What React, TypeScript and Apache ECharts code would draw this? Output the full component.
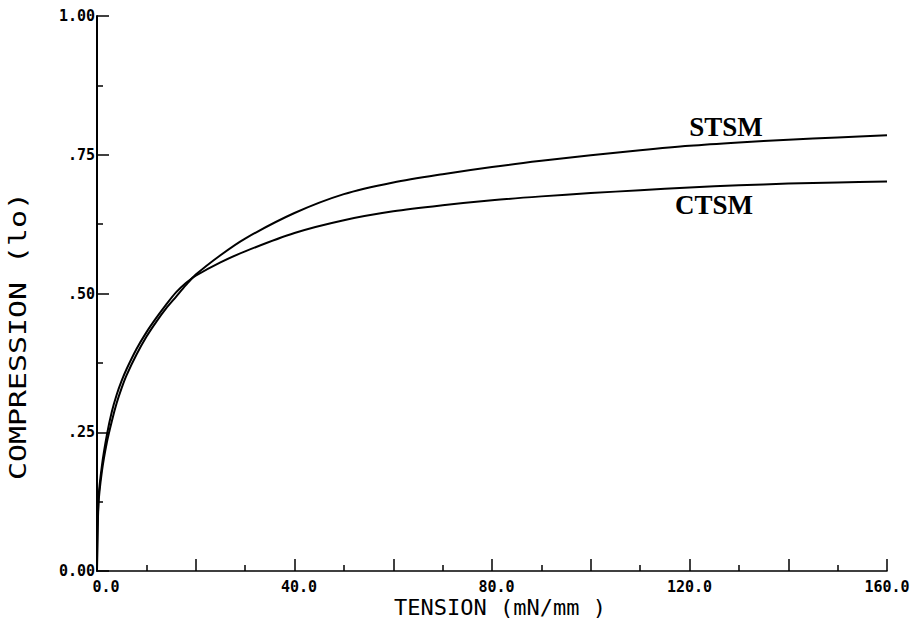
import React, { useEffect, useRef } from "react";
import * as echarts from "echarts";

const tension = [0, 0.3, 1, 2, 3, 4, 5, 6, 8, 10, 12, 14, 16, 18, 20, 25, 30, 40, 50, 60, 70, 80, 90, 100, 110, 120, 130, 140, 150, 160];
const stsm = [0, 0.12, 0.18, 0.232, 0.27, 0.303, 0.33, 0.353, 0.39, 0.422, 0.449, 0.473, 0.494, 0.515, 0.534, 0.569, 0.599, 0.645, 0.679, 0.7, 0.715, 0.728, 0.739, 0.749, 0.758, 0.766, 0.772, 0.777, 0.781, 0.785];
const ctsm = [0, 0.13, 0.19, 0.245, 0.287, 0.318, 0.343, 0.364, 0.4, 0.43, 0.456, 0.48, 0.502, 0.519, 0.532, 0.556, 0.576, 0.609, 0.632, 0.648, 0.659, 0.668, 0.675, 0.681, 0.686, 0.691, 0.695, 0.698, 0.7, 0.702];

const seriesNames = ["STSM", "CTSM"];
const xTitle = "TENSION (mN/mm )";
const yTitle = "COMPRESSION (lo)";

export default function App() {
  const ref = useRef<HTMLDivElement>(null);
  useEffect(() => {
    if (!ref.current) return;
    const chart = echarts.init(ref.current, undefined, { renderer: "svg" });
    const pair = (ys: number[]) => tension.map((t, i) => [t, ys[i]]);
    const tickFont = { fontFamily: "DejaVu Sans Mono", fontWeight: "bold" as const, fontSize: 15, color: "#000" };
    chart.setOption({
      animation: false,
      backgroundColor: "#fff",
      grid: { left: 97, right: 25, top: 16, bottom: 50, containLabel: false, outerBoundsMode: "none" },
      xAxis: {
        type: "value",
        min: 0,
        max: 160,
        interval: 20,
        axisLine: { lineStyle: { color: "#000", width: 1.6 } },
        axisTick: { inside: true, length: 12, lineStyle: { color: "#000", width: 1.5 } },
        minorTick: { show: true, splitNumber: 2, length: 6, lineStyle: { color: "#000", width: 1.5 } },
        splitLine: { show: false },
        axisLabel: {
          ...tickFont,
          margin: 8,
          formatter: (v: number) => {
            if (v % 40 !== 0) return "";
            const s = v.toFixed(1);
            return s.length === 3 ? `{a|${s}}` : s.length === 4 ? `{b|${s}}` : `{c|${s}}`;
          },
          rich: {
            a: { ...tickFont, padding: [0, 0, 0, 18] },
            b: { ...tickFont, padding: [0, 0, 0, 9] },
            c: { ...tickFont },
          },
        },
      },
      yAxis: {
        type: "value",
        min: 0,
        max: 1,
        interval: 0.25,
        axisLine: { show: true, lineStyle: { color: "#000", width: 2 } },
        axisTick: { show: true, inside: true, length: 12, lineStyle: { color: "#000", width: 1.5 } },
        minorTick: { show: true, splitNumber: 2, length: 6, lineStyle: { color: "#000", width: 1.5 } },
        splitLine: { show: false },
        axisLabel: {
          ...tickFont,
          margin: 2,
          formatter: (v: number) => (v === 0 ? "0.00" : v === 1 ? "1.00" : v.toFixed(2).replace(/^0/, "")),
        },
      },
      series: [
        {
          name: seriesNames[0],
          type: "line",
          data: pair(stsm),
          showSymbol: false,
          smooth: 0.3,
          lineStyle: { color: "#000", width: 2 },
        },
        {
          name: seriesNames[1],
          type: "line",
          data: pair(ctsm),
          showSymbol: false,
          smooth: 0.3,
          lineStyle: { color: "#000", width: 2 },
        },
      ],
      graphic: [
        {
          type: "text",
          x: 726,
          y: 127,
          style: { text: seriesNames[0], fontFamily: "Liberation Serif", fontWeight: "bold", fontSize: 27, fill: "#000", align: "center", verticalAlign: "middle" },
        },
        {
          type: "text",
          x: 714,
          y: 205,
          style: { text: seriesNames[1], fontFamily: "Liberation Serif", fontWeight: "bold", fontSize: 27, fill: "#000", align: "center", verticalAlign: "middle" },
        },
        {
          type: "text",
          x: 500,
          y: 607,
          style: { text: xTitle, fontFamily: "DejaVu Sans Mono", fontSize: 22, fill: "#000", align: "center", verticalAlign: "middle" },
        },
        {
          type: "text",
          x: 18,
          y: 336,
          rotation: Math.PI / 2,
          scaleX: 1.3,
          style: { text: yTitle, fontFamily: "DejaVu Sans Mono", fontSize: 23, fill: "#000", align: "center", verticalAlign: "middle" },
        },
      ],
    });
    return () => chart.dispose();
  }, []);
  return <div ref={ref} style={{ position: "fixed", left: 0, top: 0, width: 912, height: 621 }} />;
}
